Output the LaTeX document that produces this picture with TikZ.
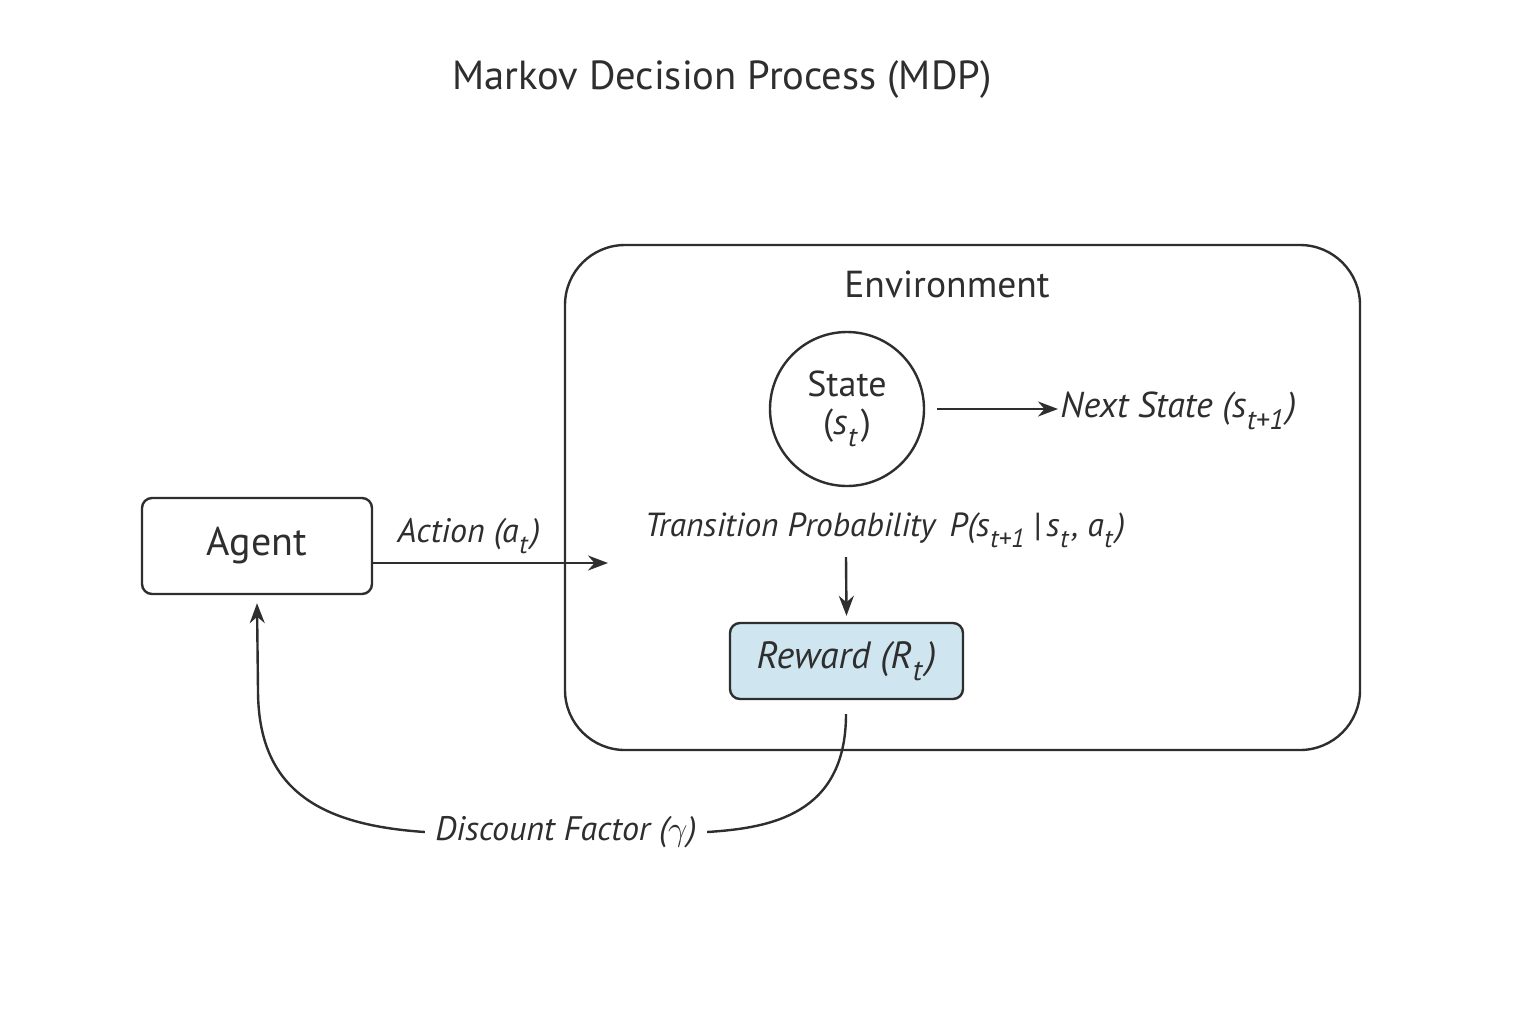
\documentclass[tikz,border=0pt]{standalone}
\usepackage{fontspec}
\usepackage{graphicx}
\setmainfont{PT Sans}
\usetikzlibrary{arrows.meta}
\definecolor{ink}{HTML}{2E2E2E}
\definecolor{rewardfill}{HTML}{CFE6F0}
\newcommand{\ssub}[2]{\textit{#1}\kern0.02em\raisebox{-0.32em}{\scalebox{0.78}{\textit{#2}\/}}\kern0.08em}
\begin{document}
\begin{tikzpicture}[x=0.5pt,y=-0.5pt,
  line/.style={draw=ink, line width=1.2pt},
  arr/.style={line, -{Stealth[length=10pt,width=7.5pt]}},
  box/.style={line, rounded corners=5pt, inner sep=0pt},
  lbl/.style={text=ink, inner sep=1pt, font=\fontsize{17}{20}\selectfont\itshape},
]
\useasboundingbox (0,0) rectangle (1536,1024);
\fill[white] (0,0) rectangle (1536,1024);

\node[text=ink, font=\fontsize{20.3}{24}\selectfont] (title) at (722,80) {Markov Decision Process (MDP)};

\node[line, rounded corners=30pt, minimum width=397.5pt, minimum height=252.5pt, inner sep=0pt] (env) at (962.5,497.5) {};
\node[text=ink, font=\fontsize{18.8}{22}\selectfont] (envlbl) at (947,284) {Environment};

\node[line, circle, minimum size=77pt, inner sep=0pt, align=center, text=ink,
  font=\fontsize{18}{21}\selectfont] (state) at (847,409) {State\\[-2pt](\ssub{s}{t})};

\node[lbl, font=\fontsize{18}{21}\selectfont\itshape, anchor=west] (next) at (1058,411) {Next State (\ssub{s}{t+1})};
\coordinate (sE) at ([xshift=6pt]state.east);
\draw[arr] (sE) -- (sE -| next.west);

\node[box, minimum width=115pt, minimum height=48pt, text=ink,
  font=\fontsize{20}{24}\selectfont] (agent) at (257,546) {Agent};

\node[lbl, font=\fontsize{16.7}{20}\selectfont\itshape] (trans) at (885,530) {Transition Probability \,\textit{P}(\ssub{s}{t+1}\,|\,\ssub{s}{t}, \ssub{a}{t})};

\coordinate (actend) at (608,563);
\draw[arr] (agent.east |- actend) -- (actend);
\node[lbl] (action) at (469,536) {Action (\ssub{a}{t})};

\node[box, fill=rewardfill, minimum width=116.5pt, minimum height=38pt, text=ink,
  font=\fontsize{19}{22}\selectfont\itshape] (reward) at (846.5,661) {Reward (\ssub{R}{t})};

\coordinate (tbot) at (846,557);
\draw[arr] (tbot) -- ([yshift=3pt]reward.north);

\node[lbl] (disc) at (566,832) {Discount Factor ($\gamma$)};

\coordinate (rstart) at (846,714);
\draw[line] (rstart) .. controls (846,815) and (770,828) .. ([xshift=4pt]disc.east);
\draw[arr] ([xshift=-4pt]disc.west) .. controls (320,825) and (258,790) .. (258,690) -- ([yshift=-4pt]agent.south);
\end{tikzpicture}
\end{document}
